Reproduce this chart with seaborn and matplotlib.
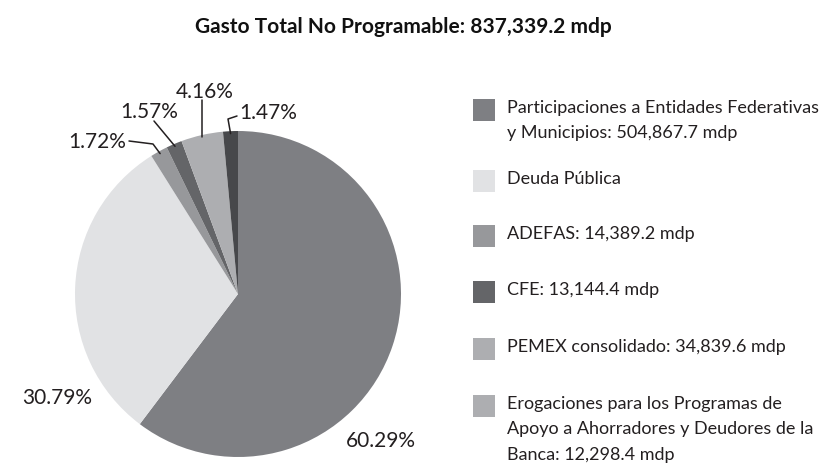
import numpy as np
import matplotlib
matplotlib.use("Agg")
import matplotlib.pyplot as plt
import seaborn as sns
from matplotlib.patches import Rectangle

# data
categories = ["Participaciones a Entidades Federativas\ny Municipios: 504,867.7 mdp",
              "Deuda Pública",
              "ADEFAS: 14,389.2 mdp",
              "CFE: 13,144.4 mdp",
              "PEMEX consolidado: 34,839.6 mdp",
              "Erogaciones para los Programas de\nApoyo a Ahorradores y Deudores de la\nBanca: 12,298.4 mdp"]
shares = [60.29, 30.79, 1.72, 1.57, 4.16, 1.47]
pct_labels = ["60.29%", "30.79%", "1.72%", "1.57%", "4.16%", "1.47%"]
slice_colors = ["#7e7f83", "#e1e2e4", "#97989b", "#646568", "#adaeb1", "#47484b"]
legend_colors = ["#7e7f83", "#e1e2e4", "#97989b", "#646568", "#adaeb1", "#adaeb1"]
title = "Gasto Total No Programable: 837,339.2 mdp"

sns.set_theme(style="white")
plt.rcParams["font.family"] = ["Lato", "DejaVu Sans"]

W, H = 822, 464
fig = plt.figure(figsize=(W / 100, H / 100), dpi=100)

# pie axes: centre (238, 295) px, radius 163 px
cx, cy, r = 238, 295, 163
ax = fig.add_axes([(cx - r) / W, (H - cy - r) / H, 2 * r / W, 2 * r / H])
wedges, _ = ax.pie(shares, colors=slice_colors, startangle=90, counterclock=False,
                   wedgeprops=dict(linewidth=0))
ax.set_xlim(-1, 1)
ax.set_ylim(-1, 1)
ax.set_aspect("equal")
ax.axis("off")

def px(x, y):
    return ((x - cx) / r, (cy - y) / r)

# label positions (pixel) and leader line bends
label_pos = [(381, 441), (57, 398), (97, 142), (149, 112), (205, 92), (268, 113)]
leaders = {2: [(129, 142), (153, 145)],
           3: [(154, 122)],
           4: [None],
           5: [(237, 117), (228, 120)]}

for i, (w, lab) in enumerate(zip(wedges, pct_labels)):
    tx, ty = px(*label_pos[i])
    ax.text(tx, ty, lab, ha="center", va="center", fontsize=15, color="#231f20")
    if i in leaders:
        mid = np.deg2rad((w.theta1 + w.theta2) / 2)
        ax_, ay_ = 0.985 * np.cos(mid), 0.985 * np.sin(mid)
        pts = leaders[i]
        if pts[0] is None:
            xs, ys = [ax_, ax_], [px(0, 101)[1], ay_]
        else:
            p = [px(*q) for q in pts]
            xs = [q[0] for q in p] + [ax_]
            ys = [q[1] for q in p] + [ay_]
        ax.plot(xs, ys, color="#231f20", lw=1.1, clip_on=False)

# legend drawn in pixel space
lax = fig.add_axes([0, 0, 1, 1])
lax.set_xlim(0, W)
lax.set_ylim(H, 0)
lax.axis("off")
row_y = [108, 179, 234, 290, 347, 404]
for yy, lab, col in zip(row_y, categories, legend_colors):
    lax.add_patch(Rectangle((473, yy - 8), 22, 22, color=col, lw=0))
    for k, line in enumerate(lab.split("\n")):
        lax.text(507, yy + 25.5 * k, line, ha="left", va="center", fontsize=13, color="#231f20")

fig.text(403 / W, 1 - 27 / H, title, ha="center", va="center", fontsize=15,
         fontweight="bold", color="#111111")

fig.savefig("out.png", dpi=100)
